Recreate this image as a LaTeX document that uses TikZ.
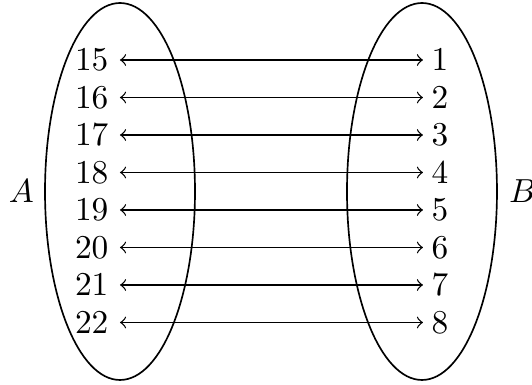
\documentclass[tikz,border=0pt]{standalone}
\usetikzlibrary{shapes.geometric}
\begin{document}
\begin{tikzpicture}[x=0.3pt,y=-0.3pt,
  setshape/.style={draw, ellipse, line width=0.5pt, inner sep=0pt, minimum width=45pt, minimum height=113.1pt},
  leftnum/.style={anchor=east, inner xsep=3.3pt, inner ysep=0pt},
  rightnum/.style={anchor=west, inner xsep=2.4pt, inner ysep=0pt},
  maparrow/.style={<->, line width=0.4pt}]
\useasboundingbox (0,0) rectangle (532,385);
\node[setshape] (SA) at (120,191.5) {};
\node[setshape] (SB) at (422,191.5) {};
\node (LA) at (21.5,191.5) {$A$};
\node (LB) at (522.5,191.5) {$B$};
\foreach \l/\r [count=\i from 0] in {15/1,16/2,17/3,18/4,19/5,20/6,21/7,22/8}{
  \node[leftnum] (a\i) at (120,60+37.5*\i) {$\l$};
  \node[rightnum] (b\i) at (423,60+37.5*\i) {$\r$};
  \draw[maparrow] (a\i) -- (b\i);
}
\end{tikzpicture}
\end{document}
